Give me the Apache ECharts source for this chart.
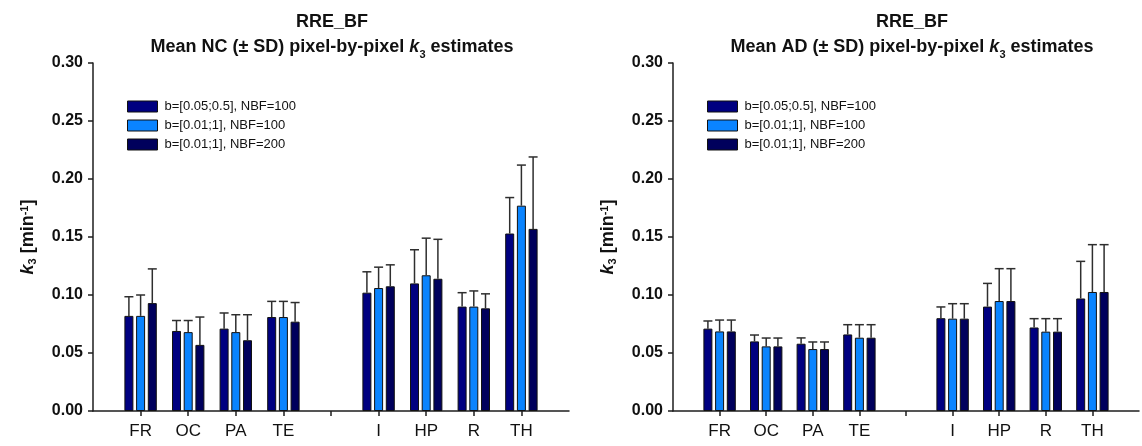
<!DOCTYPE html>
<html>
<head>
<meta charset="utf-8">
<title>RRE_BF k3 estimates</title>
<script src="https://cdn.jsdelivr.net/npm/echarts@6/dist/echarts.min.js"></script>
<style>
  html,
  body {
    margin: 0;
    padding: 0;
    background: #fff;
  }
  #chart {
    width: 1142px;
    height: 446px;
  }
</style>
</head>
<body>
<div id="chart"></div>
<script>
// regions, with empty slots at both ends and between the two groups
const categories = ["", "FR", "OC", "PA", "TE", "", "I", "HP", "R", "TH", ""];
const seriesNames = ["b=[0.05;0.5], NBF=100", "b=[0.01;1], NBF=100", "b=[0.01;1], NBF=200"];
const yTicks = [0, 0.05, 0.1, 0.15, 0.2, 0.25, 0.3];

// Mean NC, FR OC PA TE I HP R TH
const ncMean1 = [0.082, 0.069, 0.071, 0.081, 0.102, 0.110, 0.090, 0.153];
const ncMean2 = [0.082, 0.068, 0.068, 0.081, 0.106, 0.117, 0.090, 0.177];
const ncMean3 = [0.093, 0.057, 0.061, 0.077, 0.1075, 0.114, 0.0885, 0.157];
const ncSd1 = [0.0165, 0.009, 0.0135, 0.0135, 0.018, 0.029, 0.012, 0.031];
const ncSd2 = [0.018, 0.010, 0.015, 0.0135, 0.018, 0.032, 0.0135, 0.035];
const ncSd3 = [0.0295, 0.024, 0.022, 0.0165, 0.0185, 0.034, 0.0125, 0.062];

// Mean AD
const adMean1 = [0.071, 0.060, 0.058, 0.066, 0.080, 0.090, 0.072, 0.097];
const adMean2 = [0.0686, 0.0557, 0.0534, 0.0632, 0.0796, 0.0948, 0.0684, 0.1026];
const adMean3 = [0.0686, 0.0557, 0.0534, 0.0632, 0.0796, 0.0948, 0.0684, 0.1026];
const adSd1 = [0.0066, 0.0055, 0.005, 0.0084, 0.0097, 0.020, 0.0076, 0.032];
const adSd2 = [0.0098, 0.0072, 0.0061, 0.0112, 0.0129, 0.0279, 0.0112, 0.0408];
const adSd3 = [0.0098, 0.0072, 0.0061, 0.0112, 0.0129, 0.0279, 0.0112, 0.0408];

const colors = ["#000080", "#0a84ff", "#00005c"];
const barWidth = 9;
const barGap = 0.3;
const textColor = "#111";
const axisColor = "#1e1e1e";

// map the 8 regions onto the 11 axis slots
const slots = [1, 2, 3, 4, 6, 7, 8, 9];

function padBars(values) {
  const out = categories.map(() => "-");
  values.forEach((v, i) => {
    out[slots[i]] = v;
  });
  return out;
}

function errData(means, sds) {
  return means.map((m, i) => [slots[i], m, sds[i]]);
}

function errorSeries(gridIndex, means, sds, order) {
  const offset = (order - 1) * barWidth * (1 + barGap);
  return {
    type: "custom",
    xAxisIndex: gridIndex,
    yAxisIndex: gridIndex,
    z: 5,
    silent: true,
    encode: { x: 0, y: 1 },
    data: errData(means, sds),
    renderItem(params, api) {
      const base = api.coord([api.value(0), api.value(1)]);
      const top = api.coord([api.value(0), api.value(1) + api.value(2)]);
      const x = base[0] + offset;
      const style = { stroke: "#2e2e2e", lineWidth: 1.5 };
      return {
        type: "group",
        children: [
          { type: "line", shape: { x1: x, y1: base[1], x2: x, y2: top[1] }, style },
          { type: "line", shape: { x1: x - barWidth / 2, y1: top[1], x2: x + barWidth / 2, y2: top[1] }, style }
        ]
      };
    }
  };
}

function barSeries(gridIndex, means, order) {
  return {
    name: seriesNames[order],
    type: "bar",
    xAxisIndex: gridIndex,
    yAxisIndex: gridIndex,
    barWidth,
    barGap: barGap * 100 + "%",
    itemStyle: {
      color: colors[order],
      borderColor: "#111",
      borderWidth: 1
    },
    data: padBars(means)
  };
}

const titleRich = {
  k: { fontStyle: "italic", fontWeight: "bold", fontSize: 18, color: textColor, fontFamily: "Liberation Sans" },
  s: { fontSize: 11, fontWeight: "bold", color: textColor, verticalAlign: "bottom", fontFamily: "Liberation Sans", padding: [7, 0, 0, 0] }
};

function makeTitle(center, word) {
  return {
    text: "RRE_BF\nMean " + word + " (\u00b1 SD) pixel-by-pixel {k|k}{s|3} estimates",
    left: center,
    top: 10,
    padding: 0,
    textAlign: "center",
    textStyle: {
      fontFamily: "Liberation Sans",
      fontSize: 18,
      fontWeight: "bold",
      color: textColor,
      lineHeight: 25,
      rich: titleRich
    }
  };
}

function makeLegend(left) {
  return {
    orient: "vertical",
    left,
    top: 100,
    padding: 0,
    itemWidth: 30,
    itemHeight: 11,
    itemGap: 6,
    icon: "rect",
    data: seriesNames,
    selectedMode: false,
    itemStyle: { borderColor: "#111", borderWidth: 1 },
    textStyle: { fontFamily: "Liberation Sans", fontSize: 13, color: textColor, padding: [0, 0, 0, 2] }
  };
}

function makeXAxis(gridIndex) {
  return {
    type: "category",
    gridIndex,
    data: categories,
    boundaryGap: false,
    axisLine: { lineStyle: { color: axisColor, width: 1.5 } },
    axisTick: {
      length: 5,
      interval: (i) => i > 0 && i < categories.length - 1,
      lineStyle: { color: axisColor, width: 1.5 }
    },
    axisLabel: {
      interval: 0,
      margin: 12,
      fontFamily: "Liberation Sans",
      fontSize: 17,
      color: textColor
    },
    splitLine: { show: false }
  };
}

function makeYAxis(gridIndex) {
  return {
    type: "value",
    gridIndex,
    min: yTicks[0],
    max: yTicks[yTicks.length - 1],
    interval: yTicks[1] - yTicks[0],
    name: "{k|k}{s|3}{n| [min}{p|-1}{n|]}",
    nameLocation: "middle",
    nameGap: 55,
    nameTextStyle: {
      rich: {
        k: { fontStyle: "italic", fontWeight: "bold", fontSize: 18, color: textColor, fontFamily: "Liberation Sans" },
        s: { fontWeight: "bold", fontSize: 11, color: textColor, fontFamily: "Liberation Sans", padding: [8, 0, 0, 0] },
        n: { fontWeight: "bold", fontSize: 18, color: textColor, fontFamily: "Liberation Sans" },
        p: { fontWeight: "bold", fontSize: 11, color: textColor, fontFamily: "Liberation Sans", padding: [0, 0, 8, 0] }
      }
    },
    axisLine: { show: true, lineStyle: { color: axisColor, width: 1.5 } },
    axisTick: { show: true, length: 5, lineStyle: { color: axisColor, width: 1.5 } },
    axisLabel: {
      margin: 10,
      fontFamily: "Liberation Sans",
      fontSize: 16,
      fontWeight: "bold",
      color: textColor,
      formatter: (v) => v.toFixed(2)
    },
    splitLine: { show: false }
  };
}

function initChart() {
  const chart = echarts.init(document.getElementById("chart"), null, { renderer: "canvas" });
  chart.setOption({
    backgroundColor: "#fff",
    animation: false,
    title: [makeTitle(332, "NC"), makeTitle(912, "AD")],
    legend: [makeLegend(127), makeLegend(707)],
    grid: [
      { left: 93, width: 476, top: 63, bottom: 35 },
      { left: 673, width: 476, top: 63, bottom: 35 }
    ],
    xAxis: [makeXAxis(0), makeXAxis(1)],
    yAxis: [makeYAxis(0), makeYAxis(1)],
    series: [
      barSeries(0, ncMean1, 0),
      barSeries(0, ncMean2, 1),
      barSeries(0, ncMean3, 2),
      errorSeries(0, ncMean1, ncSd1, 0),
      errorSeries(0, ncMean2, ncSd2, 1),
      errorSeries(0, ncMean3, ncSd3, 2),
      barSeries(1, adMean1, 0),
      barSeries(1, adMean2, 1),
      barSeries(1, adMean3, 2),
      errorSeries(1, adMean1, adSd1, 0),
      errorSeries(1, adMean2, adSd2, 1),
      errorSeries(1, adMean3, adSd3, 2)
    ]
  });
}

initChart();
</script>
</body>
</html>
